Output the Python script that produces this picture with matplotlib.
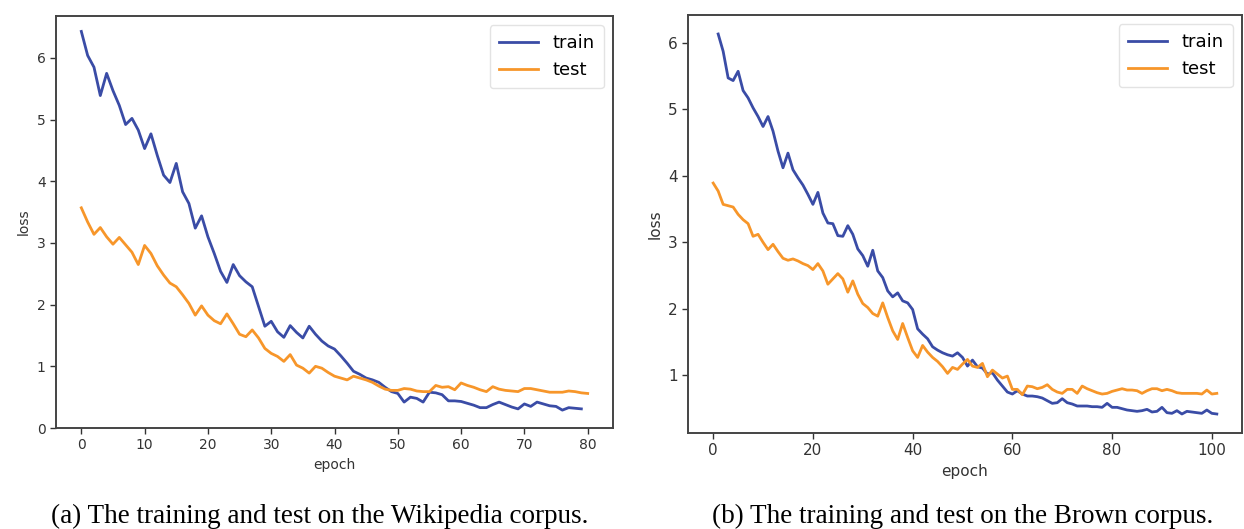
import matplotlib
matplotlib.use("Agg")
import matplotlib.pyplot as plt
import numpy as np

# ── Data ─────────────────────────────────────────────────────────────────────
wiki_train_epoch = np.arange(0, 80)
wiki_train_loss = [
    6.43, 6.04, 5.85, 5.39, 5.75, 5.47, 5.23, 4.92, 5.02, 4.83,
    4.53, 4.77, 4.42, 4.10, 3.98, 4.29, 3.83, 3.64, 3.24, 3.44,
    3.10, 2.83, 2.54, 2.36, 2.65, 2.47, 2.37, 2.29, 1.97, 1.65,
    1.73, 1.56, 1.47, 1.66, 1.55, 1.46, 1.65, 1.52, 1.41, 1.33,
    1.28, 1.17, 1.05, 0.92, 0.87, 0.81, 0.78, 0.74, 0.66, 0.59,
    0.56, 0.42, 0.50, 0.48, 0.42, 0.58, 0.57, 0.54, 0.44, 0.44,
    0.43, 0.40, 0.37, 0.33, 0.33, 0.38, 0.42, 0.38, 0.34, 0.31,
    0.39, 0.35, 0.42, 0.39, 0.36, 0.35, 0.29, 0.33, 0.32, 0.31,
]
wiki_test_epoch = np.arange(0, 81)
wiki_test_loss = [
    3.57, 3.34, 3.14, 3.25, 3.10, 2.98, 3.09, 2.97, 2.85, 2.65,
    2.96, 2.83, 2.63, 2.48, 2.35, 2.29, 2.16, 2.02, 1.83, 1.98,
    1.83, 1.74, 1.69, 1.85, 1.69, 1.52, 1.48, 1.59, 1.46, 1.29,
    1.21, 1.16, 1.08, 1.19, 1.02, 0.97, 0.89, 1.00, 0.97, 0.90,
    0.84, 0.81, 0.78, 0.84, 0.81, 0.78, 0.74, 0.68, 0.63, 0.61,
    0.61, 0.64, 0.63, 0.60, 0.59, 0.59, 0.69, 0.66, 0.67, 0.62,
    0.73, 0.69, 0.66, 0.62, 0.59, 0.67, 0.63, 0.61, 0.60, 0.59,
    0.64, 0.64, 0.62, 0.60, 0.58, 0.58, 0.58, 0.60, 0.59, 0.57,
    0.56,
]

brown_train_epoch = np.arange(1, 102)
brown_train_loss = [
    6.13, 5.87, 5.47, 5.43, 5.57, 5.28, 5.17, 5.02, 4.89, 4.74,
    4.89, 4.67, 4.37, 4.12, 4.34, 4.09, 3.97, 3.86, 3.72, 3.57,
    3.75, 3.44, 3.29, 3.28, 3.10, 3.09, 3.25, 3.12, 2.90, 2.80,
    2.64, 2.88, 2.57, 2.47, 2.27, 2.18, 2.24, 2.12, 2.09, 1.99,
    1.70, 1.62, 1.55, 1.43, 1.38, 1.34, 1.31, 1.29, 1.34, 1.27,
    1.14, 1.23, 1.13, 1.11, 1.02, 1.04, 0.93, 0.84, 0.75, 0.72,
    0.77, 0.72, 0.69, 0.69, 0.68, 0.66, 0.62, 0.58, 0.59, 0.65,
    0.59, 0.57, 0.54, 0.54, 0.54, 0.53, 0.53, 0.52, 0.58, 0.52,
    0.52, 0.50, 0.48, 0.47, 0.46, 0.47, 0.49, 0.45, 0.46, 0.52,
    0.44, 0.43, 0.47, 0.42, 0.46, 0.45, 0.44, 0.43, 0.48, 0.43,
    0.42,
]
brown_test_epoch = np.arange(0, 102)
brown_test_loss = [
    3.89, 3.77, 3.57, 3.55, 3.53, 3.42, 3.34, 3.28, 3.09, 3.12,
    3.00, 2.89, 2.97, 2.86, 2.76, 2.73, 2.75, 2.72, 2.68, 2.65,
    2.59, 2.68, 2.57, 2.37, 2.45, 2.53, 2.45, 2.25, 2.42, 2.22,
    2.08, 2.02, 1.93, 1.89, 2.09, 1.87, 1.67, 1.54, 1.78, 1.57,
    1.37, 1.27, 1.45, 1.35, 1.27, 1.21, 1.13, 1.03, 1.12, 1.09,
    1.17, 1.24, 1.14, 1.12, 1.18, 0.98, 1.08, 1.02, 0.96, 0.99,
    0.79, 0.79, 0.71, 0.84, 0.83, 0.80, 0.82, 0.86, 0.79, 0.75,
    0.73, 0.79, 0.79, 0.73, 0.84, 0.80, 0.77, 0.74, 0.72, 0.73,
    0.76, 0.78, 0.80, 0.78, 0.78, 0.77, 0.73, 0.77, 0.80, 0.80,
    0.77, 0.79, 0.77, 0.74, 0.73, 0.73, 0.73, 0.73, 0.72, 0.78,
    0.72, 0.73,
]

captions = [
    "(a) The training and test on the Wikipedia corpus.",
    "(b) The training and test on the Brown corpus.",
]

TRAIN_C = "#3a4ca6"
TEST_C = "#f7962a"
W, H = 1244, 529


def px_axes(fig, x0, x1, y_top, y_bot):
    return fig.add_axes([x0 / W, (H - y_bot) / H, (x1 - x0) / W, (y_bot - y_top) / H])


def style(ax, tick_size, label_size):
    for s in ax.spines.values():
        s.set_color("#444444")
        s.set_linewidth(1.4)
    ax.tick_params(labelsize=tick_size, colors="#333333", length=4, width=1.0)
    ax.set_xlabel("epoch", fontsize=label_size, color="#333333")
    ax.set_ylabel("loss", fontsize=label_size, color="#333333")
    ax.legend(loc="upper right", fontsize=13, frameon=True, fancybox=True,
              borderpad=0.5, handlelength=2.2, edgecolor="#dddddd")


fig = plt.figure(figsize=(W / 100, H / 100), dpi=100)

# ── (a) Wikipedia ────────────────────────────────────────────────────────────
ax1 = px_axes(fig, 56, 613, 16, 428)
ax1.plot(wiki_train_epoch, wiki_train_loss, color=TRAIN_C, lw=2.0, label="train")
ax1.plot(wiki_test_epoch, wiki_test_loss, color=TEST_C, lw=2.0, label="test")
ax1.set_ylim(0, 6.68)
ax1.set_xticks(np.arange(0, 81, 10))
style(ax1, 10, 10)

# ── (b) Brown ────────────────────────────────────────────────────────────────
ax2 = px_axes(fig, 688, 1242, 15, 433)
ax2.plot(brown_train_epoch, brown_train_loss, color=TRAIN_C, lw=2.0, label="train")
ax2.plot(brown_test_epoch, brown_test_loss, color=TEST_C, lw=2.0, label="test")
ax2.set_xticks(np.arange(0, 101, 20))
ax2.set_yticks(np.arange(1, 7))
style(ax2, 11, 11)

fig.text(320 / W, 1 - 516 / H, captions[0], ha="center", va="center",
         family="Liberation Serif", fontsize=19.5)
fig.text(963 / W, 1 - 516 / H, captions[1], ha="center", va="center",
         family="Liberation Serif", fontsize=19.5)

fig.savefig("out.png", dpi=100)
